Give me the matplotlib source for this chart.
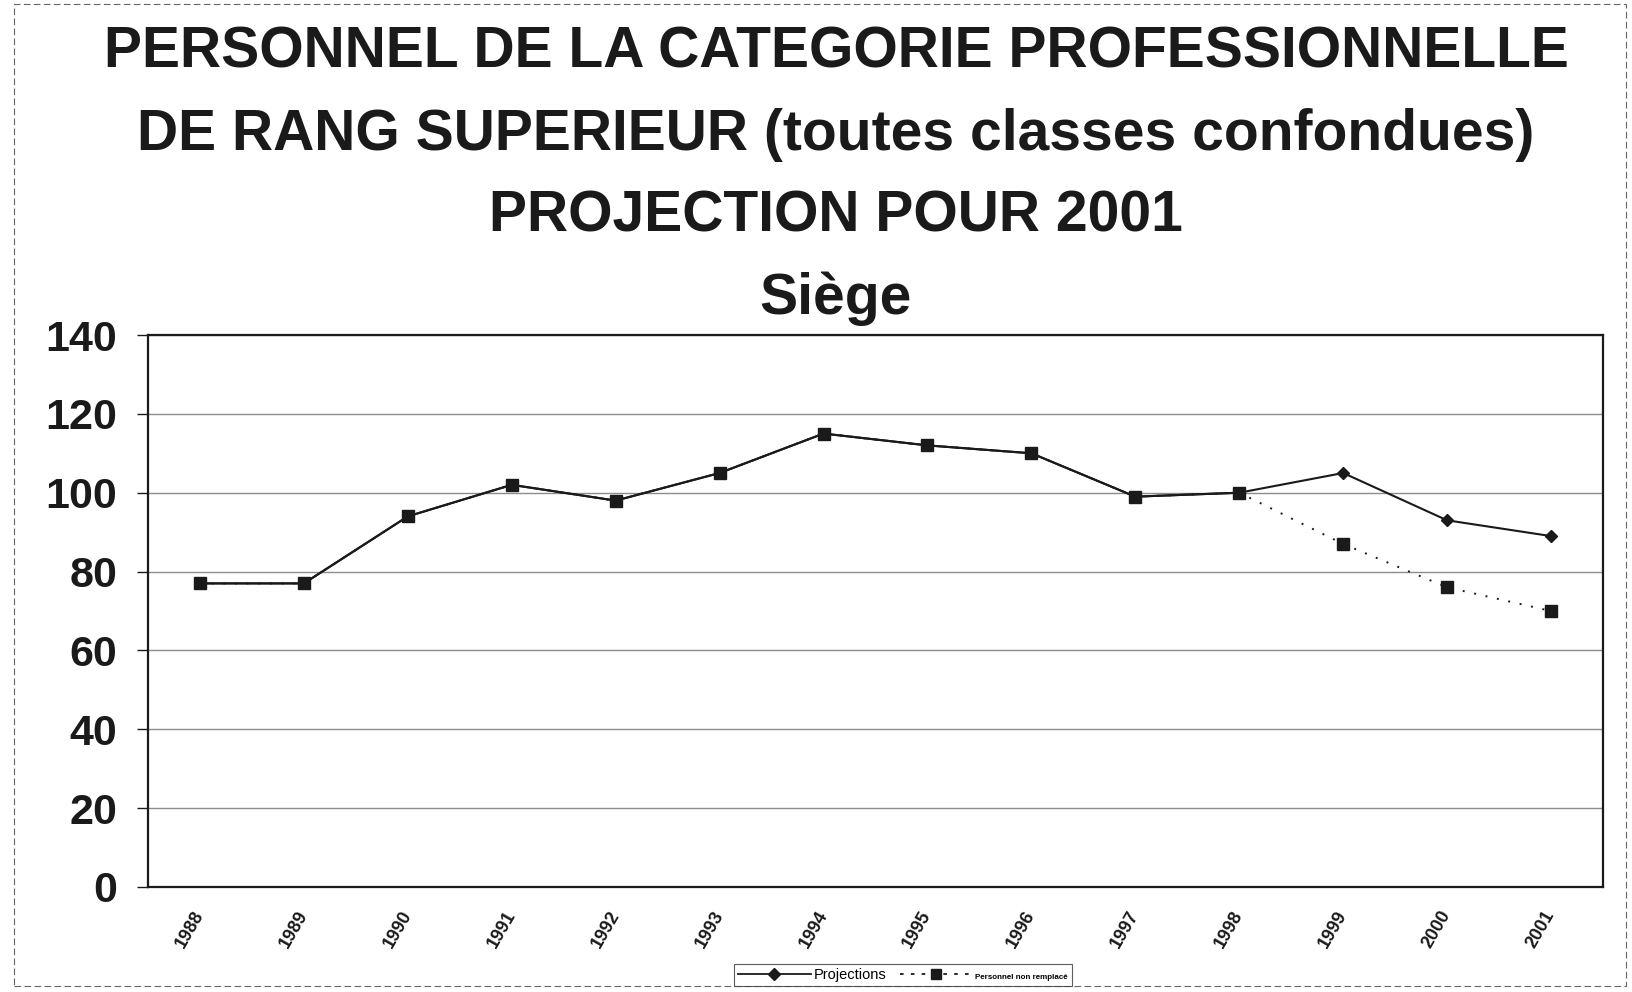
import matplotlib
matplotlib.use("Agg")
import matplotlib.pyplot as plt
from matplotlib.patches import Rectangle
from matplotlib.lines import Line2D

plt.rcParams['font.family'] = ['Liberation Sans', 'DejaVu Sans']

years = ['1988', '1989', '1990', '1991', '1992', '1993', '1994',
         '1995', '1996', '1997', '1998', '1999', '2000', '2001']
projections = [77, 77, 94, 102, 98, 105, 115, 112, 110, 99, 100, 105, 93, 89]
non_remplace = [77, 77, 94, 102, 98, 105, 115, 112, 110, 99, 100, 87, 76, 70]
yticks = [0, 20, 40, 60, 80, 100, 120, 140]

title_lines = ["PERSONNEL DE LA CATEGORIE PROFESSIONNELLE",
               "DE RANG SUPERIEUR (toutes classes confondues)",
               "PROJECTION POUR 2001",
               "Siège"]
legend_labels = ["Projections", "Personnel non remplacé"]

W, H = 1632, 992
fig = plt.figure(figsize=(W / 100, H / 100), dpi=100)
ax = fig.add_axes([148 / W, 1 - 887 / H, (1603 - 148) / W, (887 - 335) / H])

x = list(range(len(years)))
ax.plot(x, projections, color='#1a1a1a', lw=1.5, marker='D', markersize=5.8,
        zorder=3, label=legend_labels[0])
ax.plot(x, non_remplace, color='#1a1a1a', lw=1.4, linestyle=(0, (1, 5)),
        marker='s', markersize=8.5, zorder=4, label=legend_labels[1])
# solid overlay on shared history so squares sit on the solid line
ax.plot(x[:11], non_remplace[:11], color='#1a1a1a', lw=1.5, zorder=3.5)

ax.set_xlim(-0.5, len(years) - 0.5)
ax.set_ylim(0, 140)
ax.set_yticks(yticks)
ax.set_yticklabels([str(v) for v in yticks], fontsize=31, fontweight='bold')
ax.tick_params(axis='y', length=8, width=1, pad=14, colors='#1a1a1a')
ax.set_xticks(x)
ax.set_xticklabels(years, fontsize=13, fontweight='bold', rotation=60,
                   ha='right', va='center', rotation_mode='anchor')
ax.tick_params(axis='x', length=0, pad=18, colors='#1a1a1a')
ax.yaxis.grid(True, color='#8c8c8c', lw=1.0)
ax.set_axisbelow(True)
for s in ax.spines.values():
    s.set_linewidth(1.6)
    s.set_color('#1a1a1a')

ys = [53, 135, 216, 299]
for t, yy in zip(title_lines, ys):
    fig.text(836 / W, 1 - yy / H, t, ha='center', va='center',
             fontsize=41, fontweight='bold', color='#1a1a1a')

h1 = Line2D([], [], color='#1a1a1a', lw=1.3, marker='D', markersize=6)
h2 = Line2D([], [], color='#1a1a1a', lw=1.3, linestyle=(0, (2, 4)),
            marker='s', markersize=7.5)
leg = fig.legend([h1, h2], legend_labels, loc='center',
                 bbox_to_anchor=(903 / W, 1 - 975 / H), ncol=2, fontsize=10.5,
                 frameon=True, fancybox=False, handlelength=5,
                 handletextpad=0.2, columnspacing=0.9, borderpad=0.3,
                 edgecolor='#333333')
leg.get_frame().set_linewidth(0.8)
texts = leg.get_texts()
texts[1].set_fontsize(5.8)
texts[1].set_fontweight('bold')

fig.patches.append(Rectangle((14 / W, 1 - 986 / H), (1626 - 14) / W,
                             (986 - 4) / H, transform=fig.transFigure,
                             fill=False, lw=0.8, ls=(0, (6, 3)),
                             edgecolor='#666666'))

fig.savefig('out.png', dpi=100, facecolor='white')
